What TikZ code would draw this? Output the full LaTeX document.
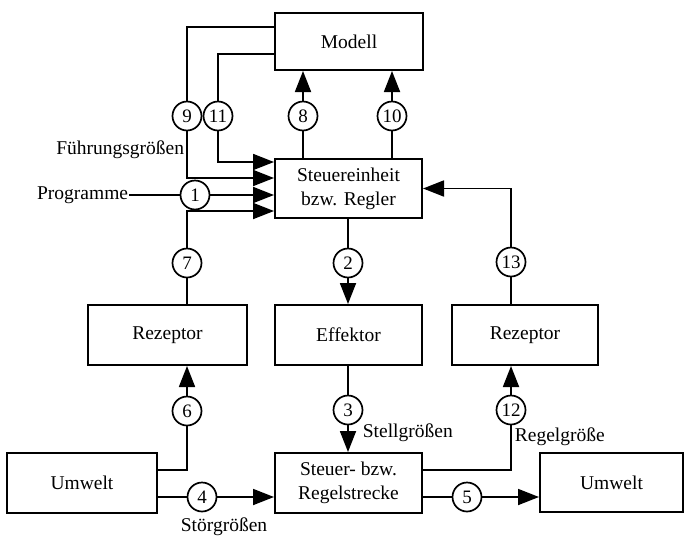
\documentclass[tikz,border=0pt]{standalone}
\usepackage{fontspec}
\setmainfont{Liberation Serif}
\usepackage{tikz}
\usetikzlibrary{shapes,arrows.meta}
\tikzset{blk/.style={rectangle,draw,line width=2pt,minimum height=59pt,minimum width=147pt,inner sep=2pt,align=center,font=\fontsize{19.5}{24}\selectfont}}
\tikzset{ell/.style={circle,draw,fill=white,line width=1.7pt,minimum size=29pt,inner sep=0pt,font=\fontsize{19}{19}\selectfont}}
\tikzset{lbl/.style={inner sep=0pt,font=\fontsize{19.5}{24}\selectfont}}

\begin{document}
\begin{tikzpicture}[x=1pt,y=-1pt,line width=1.8pt,>={Triangle[length=21pt,width=16pt]}]
    \useasboundingbox (0,0) rectangle (685,536);
    \node[blk,minimum width=148pt,minimum height=57pt] (modell) at (349,41.5) {Modell};
    \node[blk] (steu) at (348.5,188.5) {Steuereinheit\\bzw. Regler};
    \node[blk,minimum width=159pt,minimum height=60pt] (rezl) at (167.5,335) {Rezeptor};
    \node[blk,minimum height=60pt] (eff) at (348.5,335) {Effektor};
    \node[blk,minimum width=146pt,minimum height=60pt] (rezr) at (525,335) {Rezeptor};
    \node[blk,minimum width=150pt,minimum height=60pt] (uml) at (82,483) {Umwelt};
    \node[blk,minimum height=60pt] (str) at (348.5,483) {Steuer- bzw.\\Regelstrecke};
    \node[blk,minimum width=143pt] (umr) at (611.5,482.5) {Umwelt};

    \node[ell] (c9) at (187,116) {9};
    \node[ell] (c11) at (218,116) {11};
    \node[ell] (c8) at (303,116) {8};
    \node[ell] (c10) at (392,116) {10};
    \node[ell] (c1) at (195,195) {1};
    \node[ell] (c7) at (187,263) {7};
    \node[ell] (c2) at (348,263) {2};
    \node[ell] (c13) at (511,262) {13};
    \node[ell] (c6) at (187,411) {6};
    \node[ell] (c3) at (348,410) {3};
    \node[ell] (c12) at (511,410) {12};
    \node[ell] (c4) at (202,497) {4};
    \node[ell] (c5) at (467,497) {5};

    \node[lbl,anchor=east] (fg) at (185,150) {Führungsgrößen};
    \node[lbl,anchor=east] (prog) at (129,195) {Programme};
    \node[lbl,anchor=west] (sg) at (362,433) {Stellgrößen};
    \node[lbl,anchor=west] (rg) at (514,437) {Regelgröße};
    \node[lbl,anchor=west] (stg) at (180,527) {Störgrößen};

    \draw (modell.west |- 0,27) -| (c9);
    \draw[->] (c9) |- (steu.west |- 0,178);
    \draw (modell.west |- 0,54) -| (c11);
    \draw[->] (c11) |- (steu.west |- 0,162);
    \draw (prog.east) -- (c1);
    \draw[->] (c1) -- (steu.west |- c1);
    \draw (rezl.north -| c7) -- (c7);
    \draw[->] (c7) |- (steu.west |- 0,211);
    \draw (steu.north -| c8) -- (c8);
    \draw[->] (c8) -- (modell.south -| c8);
    \draw (steu.north -| c10) -- (c10);
    \draw[->] (c10) -- (modell.south -| c10);
    \draw (steu.south -| c2) -- (c2);
    \draw[->] (c2) -- (eff.north -| c2);
    \draw (rezr.north -| c13) -- (c13);
    \draw[->] (c13) |- (steu.east);
    \draw (uml.east |- 0,470) -| (c6);
    \draw[->] (c6) -- (rezl.south -| c6);
    \draw (uml.east |- c4) -- (c4);
    \draw[->] (c4) -- (str.west |- c4);
    \draw (eff.south -| c3) -- (c3);
    \draw[->] (c3) -- (str.north -| c3);
    \draw (str.east |- 0,470) -| (c12);
    \draw[->] (c12) -- (rezr.south -| c12);
    \draw (str.east |- c5) -- (c5);
    \draw[->] (c5) -- (umr.west |- c5);
\end{tikzpicture}
\end{document}
